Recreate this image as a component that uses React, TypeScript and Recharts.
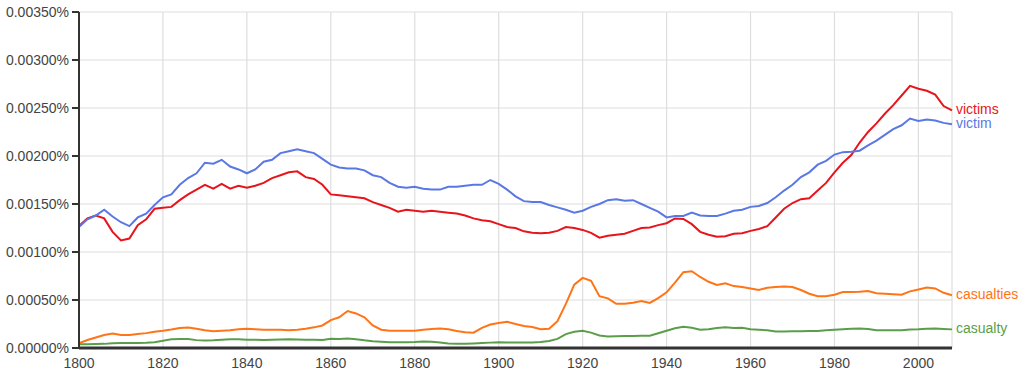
import React from "react";
import { LineChart, Line, XAxis, YAxis, CartesianGrid } from "recharts";

// Years 1800..2008, every 2 years
const years: number[] = Array.from({ length: 105 }, (_, i) => 1800 + 2 * i);

// Values in units of 0.00001 % (e.g. 126 => 0.00126%)
const victims: number[] = [
  127, 135, 138, 135, 121,
  112, 114, 128, 134, 145,
  146, 147, 154, 160, 165,
  170, 166, 171, 166, 169,
  167, 169, 172, 177, 180,
  183, 184, 178, 176, 170,
  160, 159, 158, 157, 156,
  152, 149, 146, 142, 144,
  143, 142, 143, 142, 141,
  140, 138, 135, 133, 132,
  129, 126, 125, 121.5, 120,
  119.5, 120, 122, 126, 125,
  123, 120, 115, 117, 118,
  119, 122, 125, 125.5, 128,
  130, 135, 134.5, 129, 121,
  118, 116, 116.5, 119, 119.5,
  122, 124, 127, 136, 145,
  151, 155, 156, 164, 172,
  183, 193, 201, 214, 225,
  234, 244, 253, 263, 273,
  270, 268, 264, 252, 247.6,
];

const victim: number[] = [
  126, 134, 138, 144, 137,
  131, 127, 136, 140, 149,
  157, 160, 170, 177, 182,
  193, 192, 196, 189, 186,
  182, 186, 194, 196, 203,
  205, 207, 205, 203, 197,
  191, 188, 187, 187, 185,
  180, 178, 172, 168, 167,
  168, 166, 165, 165, 168,
  168, 169, 170, 170, 175,
  171, 165, 158, 153, 152,
  152, 149, 146.5, 144, 141,
  143, 147, 150, 154, 155,
  153.5, 154, 150, 146, 142,
  136, 137.5, 137.5, 141, 138,
  137.5, 137.5, 140, 143, 144,
  147, 148, 151, 157, 164,
  170, 178, 183, 191, 195,
  201.5, 204, 204.5, 205.5, 211,
  216, 222, 228, 232, 239,
  236.5, 238, 237, 234.5, 233,
];

const casualties: number[] = [
  5, 8.3, 11, 13.5, 15,
  13.5, 13.5, 14.5, 15.5, 17,
  18, 19.3, 20.8, 21.4, 20,
  18.5, 17.5, 18, 18.5, 19.5,
  20, 19.5, 19, 19, 19,
  18.6, 19, 20, 21.5, 23.5,
  29, 32, 38.5, 36, 32,
  23.5, 19, 18, 18, 18,
  18, 19, 19.8, 20.3, 19.5,
  17.7, 16.5, 16, 21, 24.5,
  26, 27.4, 25, 23, 21.9,
  19.5, 20, 28, 46, 66,
  73, 70, 54, 51.7, 46,
  46, 47.2, 49, 47, 52,
  58, 68, 79, 80, 74,
  69, 65.6, 67.5, 64.5, 63.5,
  62, 60.5, 62.8, 63.5, 64,
  63.5, 60.4, 56.5, 54, 54,
  55.5, 58.3, 58.3, 58.5, 59.4,
  57, 56.6, 56, 55.5, 59,
  61, 63, 62, 57.5, 55,
];

const casualty: number[] = [
  3.8, 4, 4.1, 4.3, 5,
  5.2, 5.2, 5.2, 5.4, 5.9,
  7.5, 9, 9.4, 9.4, 8.2,
  7.7, 8, 8.7, 9, 9,
  8.7, 8.5, 8.3, 8.6, 8.8,
  9, 8.9, 8.7, 8.5, 8.3,
  9.6, 9.4, 9.8, 9.2, 8,
  7, 6.5, 5.9, 6, 6.1,
  6.3, 6.8, 6.5, 5.8, 4.6,
  4.5, 4.5, 4.8, 5.2, 5.6,
  5.9, 5.8, 5.6, 5.7, 5.8,
  6.2, 7.3, 9.5, 14.5, 17,
  18, 16, 13, 11.9, 12.2,
  12.4, 12.5, 12.7, 12.8, 15.4,
  18, 20.5, 22, 21, 19,
  19.5, 20.8, 21.5, 20.8, 21,
  19.5, 19, 18.5, 17.2, 17.2,
  17.4, 17.5, 17.6, 17.8, 18.4,
  19, 19.6, 20.1, 20.4, 19.8,
  18.5, 18.4, 18.4, 18.6, 19.2,
  19.5, 20, 20.3, 19.8, 19.4,
];

const xTicks: number[] = [1800, 1820, 1840, 1860, 1880, 1900, 1920, 1940, 1960, 1980, 2000];
const yTicks: number[] = [0, 50, 100, 150, 200, 250, 300, 350];

const seriesNames = ["victims", "victim", "casualties", "casualty"];

const data = years.map((year, i) => ({
  year,
  victims: victims[i],
  victim: victim[i],
  casualties: casualties[i],
  casualty: casualty[i],
}));

const FONT = "Arial, 'Liberation Sans', Helvetica, sans-serif";
const LAST = years.length - 1;

const colors: Record<string, string> = {
  victims: "#e8141c",
  victim: "#5a78e4",
  casualties: "#ff7416",
  casualty: "#5a9e4a",
};

const makeEndLabel = (name: string) => (props: any) => {
  const { x, y, index } = props;
  if (index !== LAST) return <g />;
  return (
    <text
      x={x + 4}
      y={y}
      dy={4}
      fontSize={14}
      fontFamily={FONT}
      fill={colors[name]}
      textAnchor="start"
    >
      {name}
    </text>
  );
};

const fmtY = (v: number) => (v / 100000).toFixed(5) + "%";

export default function App() {
  return (
    <div style={{ position: "absolute", left: 0, top: 0, width: 1024, height: 374, background: "#fff" }}>
      <LineChart
        width={1024}
        height={374}
        data={data}
        margin={{ top: 12, right: 72, bottom: 0, left: 0 }}
      >
        <CartesianGrid stroke="#dedede" strokeWidth={1.2} ticks={undefined} />
        <XAxis
          dataKey="year"
          type="number"
          domain={[1800, 2008]}
          ticks={xTicks}
          height={26}
          tickSize={0}
          tickMargin={10}
          tickLine={false}
          axisLine={{ stroke: "#333", strokeWidth: 3 }}
          tick={{ fontSize: 14, fontFamily: FONT, fill: "#444" }}
          interval={0}
        />
        <YAxis
          type="number"
          domain={[0, 350]}
          ticks={yTicks}
          width={79}
          tickSize={7}
          tickMargin={3}
          tickLine={{ stroke: "#333", strokeWidth: 2 }}
          axisLine={{ stroke: "#333", strokeWidth: 2 }}
          tick={{ fontSize: 14, fontFamily: FONT, fill: "#444" }}
          tickFormatter={fmtY}
          interval={0}
        />
        {seriesNames.map((name) => (
          <Line
            key={name}
            dataKey={name}
            type="linear"
            stroke={colors[name]}
            strokeWidth={2}
            dot={false}
            activeDot={false}
            isAnimationActive={false}
            label={makeEndLabel(name)}
          />
        ))}
      </LineChart>
    </div>
  );
}
